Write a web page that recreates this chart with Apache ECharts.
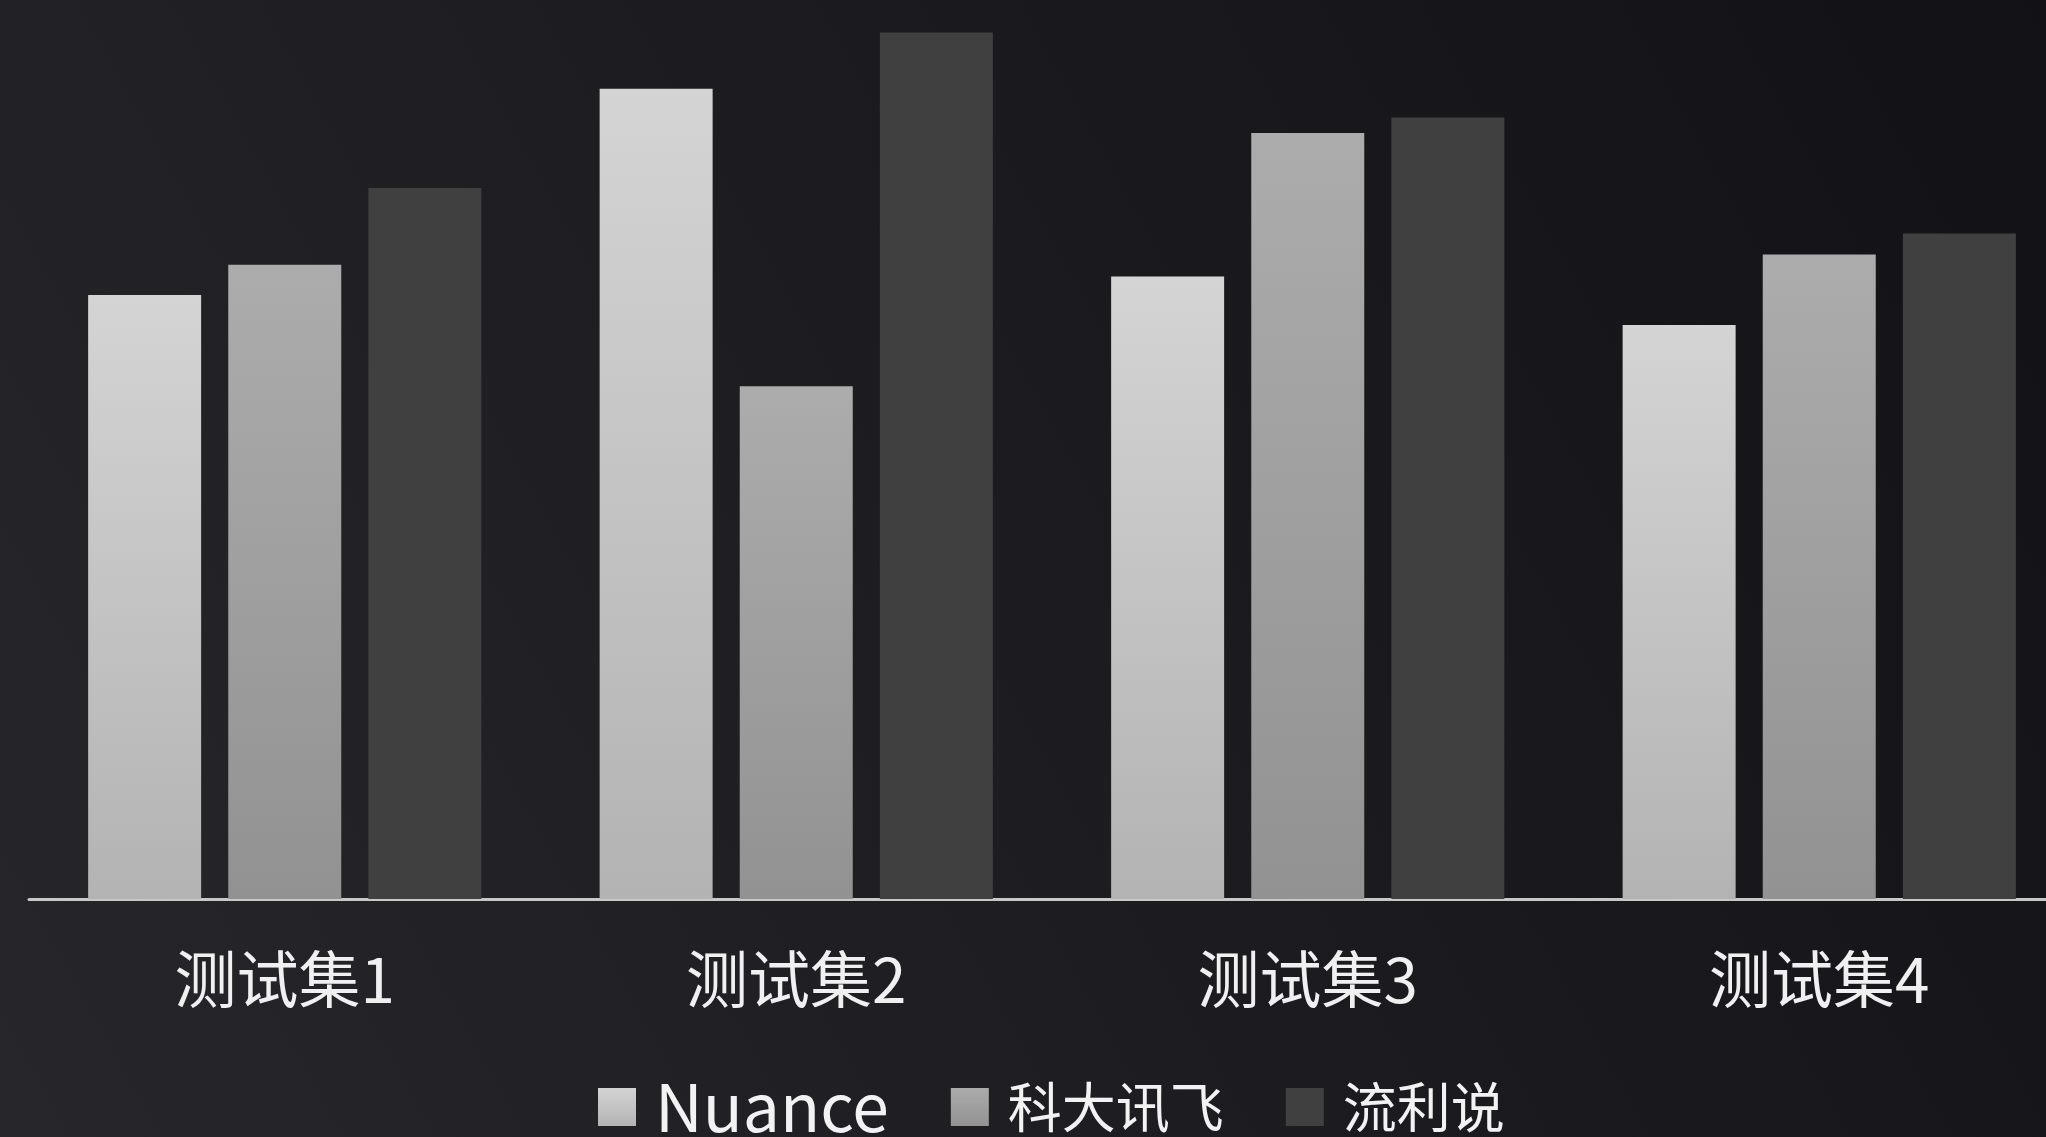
<!DOCTYPE html>
<html>
<head>
<meta charset="utf-8">
<script src="https://cdn.jsdelivr.net/npm/echarts@6/dist/echarts.min.js"></script>
<style>
html,body{margin:0;padding:0;width:100%;height:100%;overflow:hidden;background:#18181c;}
#chart{width:2046px;height:1137px;}
</style>
</head>
<body>
<div id="chart"></div>
<script>
const categories = ['测试集1', '测试集2', '测试集3', '测试集4'];
const seriesNames = ['Nuance', '科大讯飞', '流利说'];
const nuance = [46.3, 62.1, 47.7, 44.0];
const iflytek = [48.6, 39.3, 58.7, 49.4];
const liulishuo = [54.5, 66.4, 59.9, 51.0];

const FONT = '"Noto Sans CJK SC", "Noto Sans", sans-serif';
const chart = echarts.init(document.getElementById('chart'));

function grad(top, bottom) {
  return new echarts.graphic.LinearGradient(0, 0, 0, 1, [
    { offset: 0, color: top },
    { offset: 1, color: bottom }
  ]);
}

const colors = [grad('#d4d4d4', '#b3b3b3'), grad('#acacac', '#929292'), '#404040'];
const dataSets = [nuance, iflytek, liulishuo];

chart.setOption({
  backgroundColor: new echarts.graphic.LinearGradient(0, 1, 1, 0, [
    { offset: 0, color: '#27272b' },
    { offset: 0.5, color: '#1c1c20' },
    { offset: 1, color: '#121216' }
  ]),
  animation: false,
  grid: { left: 29, right: -29, top: 0, bottom: 238, containLabel: false, outerBoundsMode: 'none' },
  legend: {
    data: seriesNames,
    left: 598,
    top: 1074,
    padding: 0,
    icon: 'rect',
    itemWidth: 38,
    itemHeight: 38,
    itemGap: 62,
    formatter: function (name) {
      return /^[A-Za-z]/.test(name) ? '{lat|' + name + '}' : '{cjk|' + name + '}';
    },
    textStyle: {
      color: '#f2f2f2', fontSize: 60, fontFamily: FONT, padding: [0, 0, 0, 14],
      rich: {
        lat: { color: '#f2f2f2', fontSize: 66, fontFamily: FONT },
        cjk: { color: '#f2f2f2', fontSize: 54, fontFamily: FONT }
      }
    }
  },
  xAxis: {
    type: 'category',
    data: categories,
    axisLine: { show: true, lineStyle: { color: '#c8c8c8', width: 3 } },
    axisTick: { show: false },
    axisLabel: { color: '#f0f0f0', fontSize: 62, fontFamily: FONT, margin: 49 },
    splitLine: { show: false }
  },
  yAxis: {
    type: 'value',
    min: 0,
    max: 68.9,
    show: false,
    splitLine: { show: false }
  },
  series: seriesNames.map((name, i) => ({
    name: name,
    type: 'bar',
    data: dataSets[i],
    barWidth: 113,
    barGap: '24%',
    itemStyle: { color: colors[i] }
  }))
});
</script>
</body>
</html>
